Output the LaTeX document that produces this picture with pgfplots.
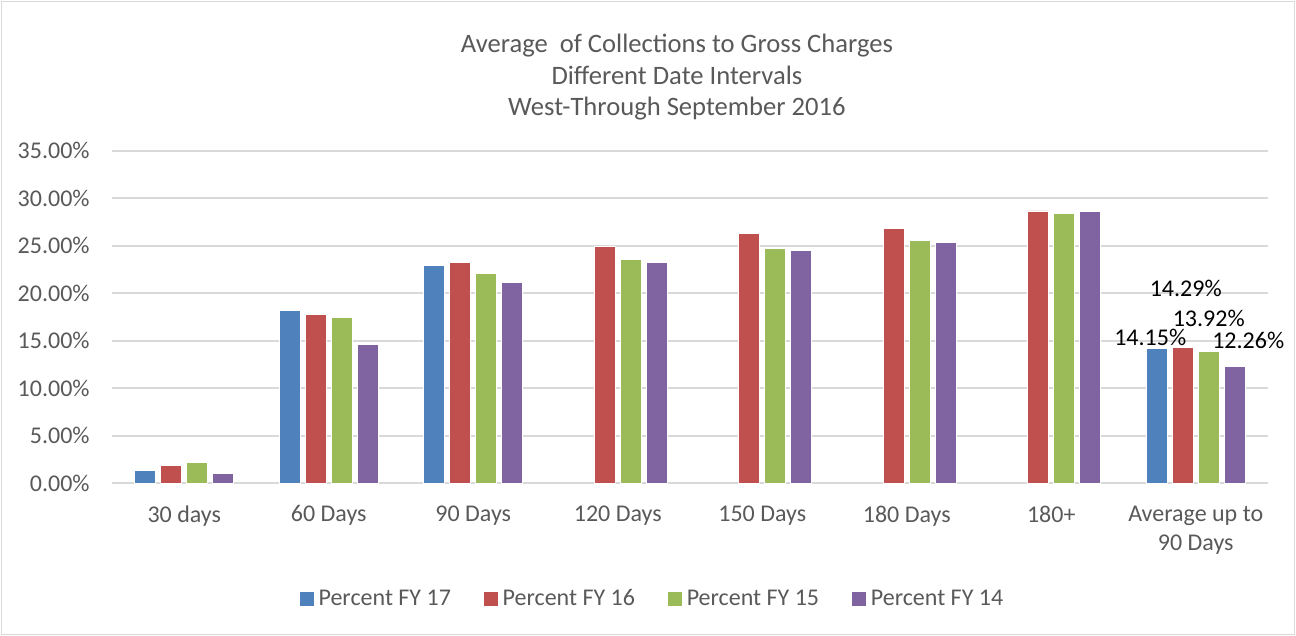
\documentclass[border=0pt]{standalone}
\usepackage{fontspec}
\setmainfont{Carlito}
\usepackage{pgfplots}
\pgfplotsset{compat=1.18}
\usepackage{pgfplotstable}
\definecolor{cA}{HTML}{4F81BD}
\definecolor{cB}{HTML}{C0504D}
\definecolor{cC}{HTML}{9BBB59}
\definecolor{cD}{HTML}{8064A2}
\definecolor{gridc}{HTML}{D9D9D9}
\definecolor{txt}{HTML}{595959}

\pgfplotstableread{
x y lab
0 1.35 {}
1 18.20 {}
2 22.90 {}
7 14.15 {14.15\%}
}\fyA
\pgfplotstableread{
x y lab
0 1.90 {}
1 17.75 {}
2 23.22 {}
3 24.93 {}
4 26.27 {}
5 26.84 {}
6 28.66 {}
7 14.29 {14.29\%}
}\fyB
\pgfplotstableread{
x y lab
0 2.20 {}
1 17.45 {}
2 22.11 {}
3 23.60 {}
4 24.74 {}
5 25.60 {}
6 28.35 {}
7 13.92 {13.92\%}
}\fyC
\pgfplotstableread{
x y lab
0 1.05 {}
1 14.63 {}
2 21.10 {}
3 23.26 {}
4 24.53 {}
5 25.37 {}
6 28.63 {}
7 12.26 {12.26\%}
}\fyD

\begin{document}
\begin{tikzpicture}
\begin{axis}[
  scale only axis,
  width=578pt, height=166.3pt,
  xmin=-0.5, xmax=7.5, ymin=0, ymax=35,
  ybar=2.5pt, bar width=10.5pt,
  axis line style={draw=none},
  major tick length=0pt,
  ymajorgrids, grid style={draw=gridc, line width=0.8pt},
  ytick={0,5,...,35},
  yticklabel={\pgfmathprintnumber[fixed,fixed zerofill,precision=2]{\tick}\%},
  /pgf/number format/assume math mode=true,
  xtick={0,...,7},
  xticklabels={30 days,60 Days,90 Days,120 Days,150 Days,180 Days,180+,{Average up to\\90 Days}},
  tick label style={font=\fontsize{12}{14.8}\selectfont, text=txt},
  yticklabel style={anchor=east, inner sep=0pt, xshift=-11pt},
  xticklabel style={anchor=north, inner sep=0pt, yshift=-11pt, align=center},
  title={Average\ \ of Collections to Gross Charges\\Different Date Intervals\\West-Through September 2016},
  title style={at={(0.4887,1)}, anchor=center, yshift=30.6pt, align=center,
    font=\fontsize{13.3}{15.75}\selectfont, text=txt},
  legend style={at={(0.468,-0.348)}, anchor=center, draw=none, fill=none,
    legend columns=4, font=\fontsize{12}{14}\selectfont, text=txt,
    /tikz/every even column/.append style={column sep=14pt}},
  legend image code/.code={\fill[#1] (0pt,-3.5pt) rectangle (7.5pt,4pt);},
  point meta=explicit symbolic,
  nodes near coords,
  nodes near coords style={font=\fontsize{12}{14}\selectfont, text=black, anchor=center},
]
\addplot[fill=cA, draw=white, line width=0.4pt,
  every node near coord/.append style={xshift=-3.25pt, yshift=5.9pt}]
  table[x=x, y=y, meta=lab] {\fyA};
\addlegendentry{Percent FY 17}
\addplot[fill=cB, draw=white, line width=0.4pt,
  every node near coord/.append style={xshift=1.5pt, yshift=29.75pt}]
  table[x=x, y=y, meta=lab] {\fyB};
\addlegendentry{Percent FY 16}
\addplot[fill=cC, draw=white, line width=0.4pt,
  every node near coord/.append style={xshift=0pt, yshift=16.5pt}]
  table[x=x, y=y, meta=lab] {\fyC};
\addlegendentry{Percent FY 15}
\addplot[fill=cD, draw=white, line width=0.4pt,
  every node near coord/.append style={xshift=6.75pt, yshift=13.4pt}]
  table[x=x, y=y, meta=lab] {\fyD};
\addlegendentry{Percent FY 14}
\end{axis}
\draw[gridc, line width=0.75pt] (-55.25pt,-75.6pt) rectangle (591.25pt,240.9pt);
\pgfresetboundingbox
\path[use as bounding box] (-56pt,-76.35pt) rectangle (592pt,241.65pt);
\end{tikzpicture}
\end{document}
